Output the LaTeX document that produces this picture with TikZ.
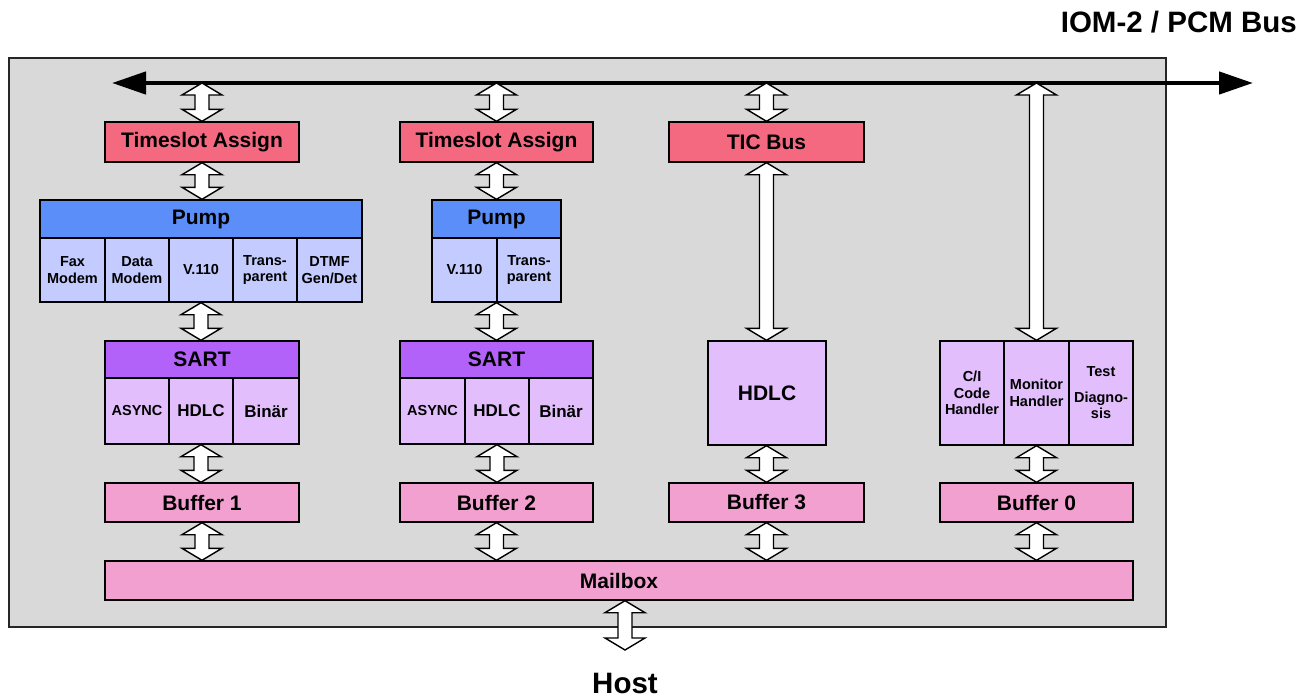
\documentclass[tikz,border=0pt]{standalone}
\usepackage{fontspec}
\setmainfont{Liberation Sans}
\usetikzlibrary{arrows.meta,calc}
\definecolor{gbg}{RGB}{217,217,217}
\definecolor{tsred}{RGB}{244,104,128}
\definecolor{pumpb}{RGB}{92,142,250}
\definecolor{pumpl}{RGB}{196,204,255}
\definecolor{sartp}{RGB}{178,98,248}
\definecolor{sartl}{RGB}{226,190,252}
\definecolor{bufp}{RGB}{242,160,208}
\newcommand\fbig{\fontsize{21}{24}\selectfont\bfseries}
\newcommand\fsmall{\fontsize{14.5}{16.5}\selectfont\bfseries}
\newcommand\fmid{\fontsize{17}{20}\selectfont\bfseries}
\newcommand\fhuge{\fontsize{29.5}{32}\selectfont\bfseries}
\newcommand\dblarr[2]{%
  \draw[dblarrow] let \p1=(#1), \p2=(#2) in
    (\x1,\y1) -- (\x1+20pt,\y1-12pt) -- (\x1+7pt,\y1-12pt) -- (\x1+7pt,\y2+12pt)
    -- (\x1+20pt,\y2+12pt) -- (\x1,\y2) -- (\x1-20pt,\y2+12pt) -- (\x1-7pt,\y2+12pt)
    -- (\x1-7pt,\y1-12pt) -- (\x1-20pt,\y1-12pt) -- cycle;}
\begin{document}
\begin{tikzpicture}[x=1pt,y=-1pt,
  blk/.style={draw, line width=1.4pt, inner sep=0pt, align=center},
  wide/.style={blk, minimum width=194pt, minimum height=40pt, font=\fbig},
  bufbox/.style={blk, fill=bufp, minimum width=194pt, minimum height=39pt, font=\fbig},
  pcell/.style={blk, fill=pumpl, minimum height=64pt, font=\fsmall},
  scell/.style={blk, fill=sartl, minimum height=66pt},
  hcell/.style={blk, fill=sartl, minimum height=104pt, font=\fsmall},
  dblarrow/.style={draw=black, fill=white, line width=1.4pt, line join=miter}]
\useasboundingbox (0,0) rectangle (1308,699);
% frame
\node[draw=black!85, line width=2pt, fill=gbg, minimum width=1157pt, minimum height=569pt, inner sep=0pt] (frame) at (587.5,342.5) {};
% title
\node[font=\fhuge, anchor=east, inner sep=0pt] (title) at (1297,22) {IOM-2 / PCM Bus};
% bus
\coordinate (busL) at (112,83);
\coordinate (busR) at (1253,83);
\draw[line width=4.5pt, {Triangle[length=34pt,width=22pt]}-{Triangle[length=34pt,width=22pt]}] (busL) -- (busR);

% ---- column 1
\node[wide, fill=tsred] (ts1) at (202,142) {Timeslot Assign};
\node[blk, fill=pumpb, minimum width=322pt, minimum height=38pt, font=\fbig] (pump1) at (201,219) {Pump};
\node[pcell, minimum width=65pt] (p11) at (72.5,270) {Fax\\Modem};
\node[pcell, minimum width=64pt] (p12) at (137,270) {Data\\Modem};
\node[pcell, minimum width=64pt] (p13) at (201,270) {V.110};
\node[pcell, minimum width=64pt] (p14) at (265,270) {Trans-\\parent};
\node[pcell, minimum width=65pt] (p15) at (329.5,270) {DTMF\\Gen/Det};
\node[blk, fill=sartp, minimum width=194pt, minimum height=37pt, font=\fbig] (sart1) at (202,359.5) {SART};
\node[scell, minimum width=64pt, font=\fsmall] (s11) at (137,411) {ASYNC};
\node[scell, minimum width=64pt, font=\fmid] (s12) at (201,411) {HDLC};
\node[scell, minimum width=66pt, font=\fmid] (s13) at (266,411) {Binär};
\node[bufbox] (buf1) at (202,502.5) {Buffer 1};

% ---- column 2
\node[wide, fill=tsred, minimum width=193pt] (ts2) at (496.5,142) {Timeslot Assign};
\node[blk, fill=pumpb, minimum width=129pt, minimum height=38pt, font=\fbig] (pump2) at (496.5,219) {Pump};
\node[pcell, minimum width=65pt] (p21) at (464.5,270) {V.110};
\node[pcell, minimum width=64pt] (p22) at (529,270) {Trans-\\parent};
\node[blk, fill=sartp, minimum width=193pt, minimum height=37pt, font=\fbig] (sart2) at (496.5,359.5) {SART};
\node[scell, minimum width=65pt, font=\fsmall] (s21) at (432.5,411) {ASYNC};
\node[scell, minimum width=64pt, font=\fmid] (s22) at (497,411) {HDLC};
\node[scell, minimum width=64pt, font=\fmid] (s23) at (561,411) {Binär};
\node[bufbox, minimum width=193pt] (buf2) at (496.5,502.5) {Buffer 2};

% ---- column 3
\node[wide, fill=tsred, minimum width=195pt] (tic) at (766.5,142) {TIC Bus};
\node[blk, fill=sartl, minimum width=118pt, minimum height=104pt, font=\fbig] (hdlc) at (767,393) {HDLC};
\node[bufbox, minimum width=195pt] (buf3) at (766.5,502.5) {Buffer 3};

% ---- column 4
\node[hcell, minimum width=64pt] (c41) at (972,393) {C/I\\Code\\Handler};
\node[hcell, minimum width=65pt] (c42) at (1036.5,393) {Monitor\\Handler};
\node[hcell, minimum width=64pt] (c43) at (1101,393) {Test\\[9pt]Diagno-\\sis};
\node[bufbox, minimum width=193pt] (buf0) at (1036.5,502.5) {Buffer 0};

% ---- mailbox and host
\node[blk, fill=bufp, minimum width=1028pt, minimum height=39pt, font=\fbig] (mb) at (619,580.5) {Mailbox};
\node[font=\fhuge, inner sep=0pt] (host) at (625,683) {Host};
\coordinate (hostin) at (625,650);

% ---- double arrows
\dblarr{ts1.north |- busL}{ts1.north}
\dblarr{ts1.south}{pump1.north}
\dblarr{p13.south}{sart1.north}
\dblarr{s12.south}{buf1.north}
\dblarr{buf1.south}{mb.north -| buf1.south}

\dblarr{ts2.north |- busL}{ts2.north}
\dblarr{ts2.south}{pump2.north}
\dblarr{sart2.north |- p21.south}{sart2.north}
\dblarr{s22.south}{buf2.north}
\dblarr{buf2.south}{mb.north -| buf2.south}

\dblarr{tic.north |- busL}{tic.north}
\dblarr{tic.south}{hdlc.north -| tic.south}
\dblarr{hdlc.south -| buf3.north}{buf3.north}
\dblarr{buf3.south}{mb.north -| buf3.south}

\dblarr{c42.north |- busL}{c42.north}
\dblarr{c42.south}{buf0.north}
\dblarr{buf0.south}{mb.north -| buf0.south}

\dblarr{mb.south -| hostin}{hostin}
\end{tikzpicture}
\end{document}
